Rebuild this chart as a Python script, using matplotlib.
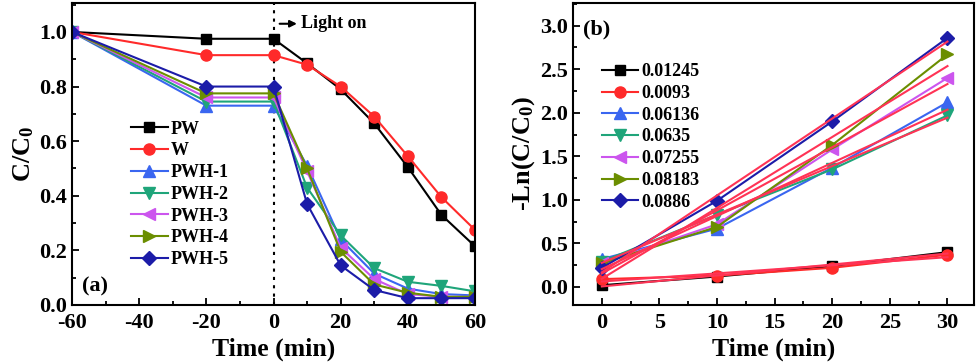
import numpy as np
import matplotlib
matplotlib.use("Agg")
import matplotlib.pyplot as plt
from matplotlib.ticker import MultipleLocator

plt.rcParams['font.family'] = ['Liberation Serif', 'DejaVu Serif']
plt.rcParams['font.weight'] = 'bold'
plt.rcParams['axes.labelweight'] = 'bold'
plt.rcParams['axes.unicode_minus'] = False
plt.rcParams['mathtext.fontset'] = 'custom'
plt.rcParams['mathtext.rm'] = 'Liberation Serif:bold'
plt.rcParams['mathtext.bf'] = 'Liberation Serif:bold'
plt.rcParams['mathtext.it'] = 'Liberation Serif:bold'

# ---- Panel (a) data ----
time_a = [-60, -20, 0, 10, 20, 30, 40, 50, 60]
pw = [1.0, 0.975, 0.975, 0.885, 0.79, 0.665, 0.505, 0.33, 0.215]
w = [1.0, 0.915, 0.915, 0.88, 0.80, 0.69, 0.545, 0.395, 0.275]
pwh1 = [1.0, 0.73, 0.73, 0.51, 0.24, 0.115, 0.06, 0.04, 0.035]
pwh2 = [1.0, 0.745, 0.745, 0.43, 0.255, 0.135, 0.085, 0.07, 0.05]
pwh3 = [1.0, 0.76, 0.76, 0.49, 0.21, 0.095, 0.04, 0.03, 0.03]
pwh4 = [1.0, 0.775, 0.775, 0.50, 0.195, 0.075, 0.045, 0.03, 0.03]
pwh5 = [1.0, 0.80, 0.80, 0.37, 0.145, 0.055, 0.025, 0.025, 0.025]
labels_a = ["PW", "W", "PWH-1", "PWH-2", "PWH-3", "PWH-4", "PWH-5"]

# ---- Panel (b) data ----
time_b = [0, 10, 20, 30]
k1 = [0.02, 0.12, 0.24, 0.40]
k2 = [0.09, 0.13, 0.22, 0.37]
k3 = [0.32, 0.67, 1.37, 2.12]
k4 = [0.29, 0.83, 1.35, 1.97]
k5 = [0.27, 0.72, 1.58, 2.40]
k6 = [0.27, 0.69, 1.63, 2.67]
k7 = [0.22, 0.99, 1.90, 2.86]
labels_b = ["0.01245", "0.0093", "0.06136", "0.0635", "0.07255", "0.08183", "0.0886"]

colors = ["#000000", "#ff2a2a", "#3a66f0", "#1fa57a", "#cc55ee", "#6b8e00", "#1c1ca8"]
markers = ["s", "o", "^", "v", "<", ">", "D"]
msizes = [7, 8, 8, 8, 8, 8, 7]
fitcolor = "#ff3355"

fig = plt.figure(figsize=(9.8, 3.64), dpi=100)
W, H = 980, 364
axa = fig.add_axes([72 / W, 1 - 305 / H, 403 / W, 302 / H])
axb = fig.add_axes([573 / W, 1 - 305 / H, 401 / W, 302 / H])

legprops = {'weight': 'bold', 'size': 13}

series_a = [pw, w, pwh1, pwh2, pwh3, pwh4, pwh5]
for ys, lab, c, m, ms in zip(series_a, labels_a, colors, markers, msizes):
    axa.plot(time_a, ys, color=c, marker=m, markersize=ms, lw=1.5, label=lab)
axa.axvline(0, color="black", ls=(0, (1.5, 2.5)), lw=1.5, zorder=0)
axa.annotate("", xy=(7.8, 1.03), xytext=(1.0, 1.03),
             arrowprops=dict(arrowstyle="-|>", color="black", lw=1.5, mutation_scale=10))
axa.text(8.2, 1.03, "Light on", fontsize=13, fontweight="bold", va="center", ha="left")
axa.set_xlim(-60, 60)
axa.set_ylim(0, 1.106)
axa.xaxis.set_major_locator(MultipleLocator(20))
axa.xaxis.set_minor_locator(MultipleLocator(10))
axa.yaxis.set_major_locator(MultipleLocator(0.2))
axa.yaxis.set_minor_locator(MultipleLocator(0.1))
axa.set_xlabel("Time (min)", fontsize=18.5, va="center")
axa.xaxis.set_label_coords(0.5, -0.148)
axa.set_ylabel("C/C$_\\mathbf{0}$", fontsize=19, labelpad=2)
axa.text(0.025, 0.045, "(a)", transform=axa.transAxes, fontsize=16, fontweight="bold")
axa.legend(loc="upper left", bbox_to_anchor=(0.125, 0.64), frameon=False,
           handlelength=2.0, handletextpad=0.2, labelspacing=0.26, borderpad=0,
           prop=legprops)

series_b = [k1, k2, k3, k4, k5, k6, k7]
tb = np.array(time_b, dtype=float)
for ys, lab, c, m, ms in zip(series_b, labels_b, colors, markers, msizes):
    axb.plot(time_b, ys, color=c, marker=m, markersize=ms, lw=1.5, label=lab, zorder=3)
for ys in series_b:
    p = np.polyfit(tb, np.array(ys), 1)
    xx = np.array([0.0, 30.0])
    axb.plot(xx, np.polyval(p, xx), color=fitcolor, lw=1.5, zorder=4)
axb.set_xlim(-2.5, 32.3)
axb.set_ylim(-0.207, 3.26)
axb.xaxis.set_major_locator(MultipleLocator(5))
axb.xaxis.set_minor_locator(MultipleLocator(2.5))
axb.yaxis.set_major_locator(MultipleLocator(0.5))
axb.yaxis.set_minor_locator(MultipleLocator(0.25))
axb.set_xlabel("Time (min)", fontsize=18.5, va="center")
axb.xaxis.set_label_coords(0.5, -0.148)
axb.set_ylabel("-Ln(C/C$_\\mathbf{0}$)", fontsize=19, labelpad=2)
axb.text(0.025, 0.895, "(b)", transform=axb.transAxes, fontsize=16, fontweight="bold")
axb.legend(loc="upper left", bbox_to_anchor=(0.05, 0.83), frameon=False,
           handlelength=2.0, handletextpad=0.2, labelspacing=0.26, borderpad=0,
           prop=legprops)

for ax in (axa, axb):
    ax.tick_params(which="both", direction="in", top=False, right=False, labelsize=16, width=1.3)
    ax.tick_params(which="major", length=5)
    ax.tick_params(which="minor", length=3)
    ax.tick_params(axis="x", pad=5.5)
    for lbl in ax.get_xticklabels() + ax.get_yticklabels():
        lbl.set_fontweight("bold")
    for s in ax.spines.values():
        s.set_linewidth(1.5)

fig.savefig("out.png", dpi=100)
